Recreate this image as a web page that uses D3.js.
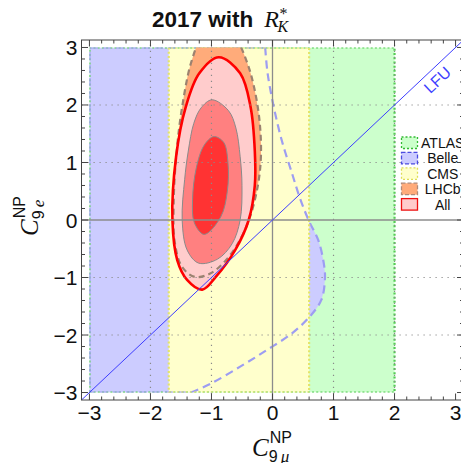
<!DOCTYPE html>
<html><head><meta charset="utf-8">
<script src="https://cdn.jsdelivr.net/npm/d3@7"></script>
<style>body{margin:0;background:#fff} svg{display:block}</style>
</head><body>
<svg id="c" width="461" height="463"></svg>
<script>
// ---------- data ----------
const xTickVals = [-3,-2,-1,0,1,2,3];
const yTickVals = [-3,-2,-1,0,1,2,3];
const gridVals  = [-2,-1,1,2];
const atlasBox  = [[-3,-3],[2,3]];
const cmsBox    = [[-1.7,-3],[0.6,3]];
// Belle boundary (dashed curve), from top edge to bottom edge
const belleCurve = [[-0.12,3],[-0.08,2.55],[0.02,1.97],[0.15,1.39],[0.32,0.81],[0.45,0.38],[0.59,0],[0.75,-0.35],[0.84,-0.75],[0.86,-1.01],[0.80,-1.39],[0.61,-1.68],[0.32,-1.97],[-0.09,-2.26],[-0.53,-2.55],[-1.02,-2.85],[-1.34,-3]];
// LHCb region boundary (extends past y=3, clipped)
const lhcbCurve = [[-0.9,3.4],[-0.6,3.15],[-0.42,2.75],[-0.3,2.3],[-0.21,1.7],[-0.19,1.1],[-0.24,0.6],[-0.37,0.05],[-0.55,-0.38],[-0.78,-0.72],[-1.02,-0.93],[-1.27,-0.99],[-1.48,-0.82],[-1.6,-0.4],[-1.62,0.3],[-1.57,1.2],[-1.48,1.97],[-1.33,2.75],[-1.15,3.2]];
// All: 3 sigma, 2 sigma, 1 sigma
const all3 = [[-0.88,2.83],[-0.53,2.55],[-0.36,1.97],[-0.29,1.2],[-0.29,0.6],[-0.39,0],[-0.61,-0.52],[-0.93,-0.99],[-1.15,-1.21],[-1.40,-1.04],[-1.56,-0.70],[-1.64,0],[-1.58,1.1],[-1.42,1.97],[-1.2,2.55]];
const all2 = [[-0.99,2.09],[-0.72,1.9],[-0.6,1.6],[-0.53,1.1],[-0.5,0.6],[-0.53,0],[-0.66,-0.41],[-0.9,-0.68],[-1.21,-0.75],[-1.40,-0.52],[-1.48,0],[-1.44,0.7],[-1.38,1.2],[-1.29,1.68],[-1.17,1.95]];
const all1 = [[-0.96,1.45],[-0.8,1.35],[-0.73,1.0],[-0.74,0.5],[-0.85,0.05],[-1.12,-0.25],[-1.28,-0.05],[-1.31,0.35],[-1.25,0.9],[-1.12,1.3]];
const legendNames = ["ATLAS","Belle","CMS","LHCb","All"];
const lfuLine = [[-3.13,-3.13],[3.13,3.13]];

// ---------- drawing ----------
const svg = d3.select("#c");
const x = d3.scaleLinear().domain([-3.13,3.13]).range([81.5,463.5]);
const y = d3.scaleLinear().domain([-3.13,3.13]).range([400,40]);
const SANS = "Liberation Sans, Arial, Helvetica, sans-serif";
const SERIF = "Liberation Serif, Times New Roman, serif";

svg.append("defs").append("clipPath").attr("id","reg").append("rect")
  .attr("x",x(-3)).attr("y",y(3)).attr("width",x(3)-x(-3)).attr("height",y(-3)-y(3));
svg.select("defs").append("clipPath").attr("id","frame").append("rect")
  .attr("x",x(-3.13)).attr("y",y(3.13)).attr("width",x(3.13)-x(-3.13)).attr("height",y(-3.13)-y(3.13));

const closed = d3.line().x(d=>x(d[0])).y(d=>y(d[1])).curve(d3.curveCatmullRomClosed.alpha(0.5));
const open = d3.line().x(d=>x(d[0])).y(d=>y(d[1])).curve(d3.curveCatmullRom.alpha(0.5));
const rectPath = b => `M${x(b[0][0])},${y(b[0][1])}H${x(b[1][0])}V${y(b[1][1])}H${x(b[0][0])}Z`;
const bellePath = open(belleCurve) + `L${x(-3)},${y(-3)}L${x(-3)},${y(3)}Z`;

const reg = svg.append("g").attr("clip-path","url(#reg)");
const C = {
  atlasF:"#ccffcc", atlasS:"#55cc55",
  belleF:"#ccccff", belleS:"#9d9df2",
  cmsF:"#ffffcc", cmsS:"#e4e46a",
  lhcbF:"#ffab7a", lhcbS:"#9c8270",
  a3:"#ffcccc", a2:"#ff8080", a1:"#ff3333"
};
// fills
reg.append("path").attr("d",rectPath(atlasBox)).attr("fill",C.atlasF);
reg.append("path").attr("d",bellePath).attr("fill",C.belleF);
reg.append("path").attr("d",rectPath(cmsBox)).attr("fill",C.cmsF);
// borders of experiments
reg.append("path").attr("d",rectPath(atlasBox)).attr("fill","none").attr("stroke",C.atlasS).attr("stroke-width",2.2).attr("stroke-dasharray","2,2.2");
reg.append("path").attr("d",bellePath).attr("fill","none").attr("stroke",C.belleS).attr("stroke-width",2.2).attr("stroke-dasharray","8,5");
reg.append("path").attr("d",rectPath(cmsBox)).attr("fill","none").attr("stroke",C.cmsS).attr("stroke-width",2.2).attr("stroke-dasharray","2,2.2");
// LHCb and All
reg.append("path").attr("d",closed(lhcbCurve)).attr("fill",C.lhcbF);
reg.append("path").attr("d",closed(all3)).attr("fill",C.a3);
reg.append("path").attr("d",closed(all2)).attr("fill",C.a2).attr("stroke","#8a8a8a").attr("stroke-width",1);
reg.append("path").attr("d",closed(all1)).attr("fill",C.a1).attr("stroke","#8a8a8a").attr("stroke-width",1);
reg.append("path").attr("d",closed(lhcbCurve)).attr("fill","none").attr("stroke",C.lhcbS).attr("stroke-width",2.2).attr("stroke-dasharray","6,4");
reg.append("path").attr("d",closed(all3)).attr("fill","none").attr("stroke","#ff0000").attr("stroke-width",2.6);

// grid lines
const fr = svg.append("g").attr("clip-path","url(#frame)");
gridVals.forEach(v=>{
  fr.append("line").attr("x1",x(v)).attr("x2",x(v)).attr("y1",y(-3.13)).attr("y2",y(3.13))
    .attr("stroke","#8a8a8a").attr("stroke-width",1.2).attr("stroke-dasharray","1.2,4.8");
  fr.append("line").attr("y1",y(v)).attr("y2",y(v)).attr("x1",x(-3.13)).attr("x2",x(3.13))
    .attr("stroke","#8a8a8a").attr("stroke-width",1.2).attr("stroke-dasharray","1.2,4.8");
});
// axes lines at 0
fr.append("line").attr("x1",x(0)).attr("x2",x(0)).attr("y1",y(-3.13)).attr("y2",y(3.13)).attr("stroke","#8c8c8c").attr("stroke-width",1.3);
fr.append("line").attr("y1",y(0)).attr("y2",y(0)).attr("x1",x(-3.13)).attr("x2",x(3.13)).attr("stroke","#8c8c8c").attr("stroke-width",1.3);
// LFU line
fr.append("path").attr("d",d3.line().x(d=>x(d[0])).y(d=>y(d[1]))(lfuLine)).attr("stroke","#3d3dff").attr("stroke-width",1);
const ang = Math.atan2(y(1)-y(0), x(1)-x(0))*180/Math.PI;
svg.append("text").attr("transform",`translate(437.5,80) rotate(${ang})`)
  .attr("text-anchor","middle").attr("dominant-baseline","central")
  .attr("font-family",SANS).attr("font-size",16).attr("fill","#4040ff").text("LFU");

// frame with ticks
const minor = d3.range(-30,31,2).map(v=>v/10);
const frameCol = "#444";
const frameG = svg.append("g");
frameG.append("rect").attr("x",x(-3.13)).attr("y",y(3.13)).attr("width",x(3.13)-x(-3.13)).attr("height",y(-3.13)-y(3.13))
  .attr("fill","none").attr("stroke",frameCol).attr("stroke-width",1);
minor.forEach(v=>{
  const maj = Math.abs(v-Math.round(v))<1e-6;
  const L = maj?6.5:3.5;
  frameG.append("line").attr("x1",x(v)).attr("x2",x(v)).attr("y1",y(-3.13)).attr("y2",y(-3.13)-L).attr("stroke",frameCol);
  frameG.append("line").attr("x1",x(v)).attr("x2",x(v)).attr("y1",y(3.13)).attr("y2",y(3.13)+L).attr("stroke",frameCol);
  frameG.append("line").attr("y1",y(v)).attr("y2",y(v)).attr("x1",x(-3.13)).attr("x2",x(-3.13)+L).attr("stroke",frameCol);
  frameG.append("line").attr("y1",y(v)).attr("y2",y(v)).attr("x1",x(3.13)).attr("x2",x(3.13)-L).attr("stroke",frameCol);
});
const fmt = v => v<0 ? "\u2212"+Math.abs(v) : String(v);
xTickVals.forEach(v=>{
  svg.append("text").attr("x",x(v)).attr("y",419.5).attr("text-anchor","middle")
    .attr("font-family",SANS).attr("font-size",21).attr("fill","#111").text(fmt(v));
});
yTickVals.forEach(v=>{
  svg.append("text").attr("x",77.5).attr("y",y(v)+7.5).attr("text-anchor","end")
    .attr("font-family",SANS).attr("font-size",21).attr("fill","#111").text(fmt(v));
});

// title
const tg = svg.append("g");
const t1 = tg.append("text").attr("x",152).attr("y",27).attr("font-family",SANS).attr("font-weight","bold")
  .attr("font-size",22.5).attr("fill","#111").text("2017 with");
const w1 = t1.node().getComputedTextLength();
const rX = 152 + w1 + 11;
const tR = tg.append("text").attr("x",rX).attr("y",27).attr("font-family",SERIF).attr("font-style","italic")
  .attr("font-size",24).attr("fill","#111").text("R");
const wR = tR.node().getComputedTextLength();
tg.append("text").attr("x",rX+wR-1.5).attr("y",32).attr("font-family",SERIF).attr("font-style","italic")
  .attr("font-size",16).attr("fill","#111").text("K");
tg.append("text").attr("x",rX+wR+0.5).attr("y",18.5).attr("font-family",SERIF)
  .attr("font-size",16).attr("fill","#111").text("*");

// axis labels
function coefLabel(g, sub1, sub2){
  const c = g.append("text").attr("x",0).attr("y",0).attr("font-family",SERIF).attr("font-style","italic")
    .attr("font-size",25).attr("fill","#111").text("C");
  const wc = c.node().getComputedTextLength();
  g.append("text").attr("x",wc+1).attr("y",-13).attr("font-family",SANS).attr("font-size",16).attr("fill","#111").text("NP");
  const s = g.append("text").attr("x",wc).attr("y",6).attr("font-family",SANS).attr("font-size",16).attr("fill","#111");
  s.append("tspan").text(sub1+"\u2009");
  s.append("tspan").attr("font-style","italic").attr("font-family",SERIF).attr("font-size",17).text(sub2);
}
coefLabel(svg.append("g").attr("transform","translate(252,456)"), "9", "\u03bc");
coefLabel(svg.append("g").attr("transform","translate(38,236) rotate(-90)"), "9", "e");

// legend
const legStyles = [
  {f:C.atlasF, s:"#33bb33", d:"2,2"},
  {f:C.belleF, s:"#4b4be0", d:"4,2"},
  {f:C.cmsF, s:"#dede55", d:"2,2"},
  {f:C.lhcbF, s:"#b08a78", d:"4,2"},
  {f:C.a3, s:"#ee1111", d:null}
];
legendNames.forEach((n,i)=>{
  const yy = 137 + i*15.4;
  const st = legStyles[i];
  const r = svg.append("rect").attr("x",401.5).attr("y",yy).attr("width",16).attr("height",11.5)
    .attr("fill",st.f).attr("stroke",st.s).attr("stroke-width",1.3);
  if(st.d) r.attr("stroke-dasharray",st.d);
  svg.append("text").attr("x",442.7).attr("y",yy+11).attr("text-anchor","middle")
    .attr("font-family",SANS).attr("font-size",14).attr("fill","#111").text(n);
});
</script>
</body></html>
